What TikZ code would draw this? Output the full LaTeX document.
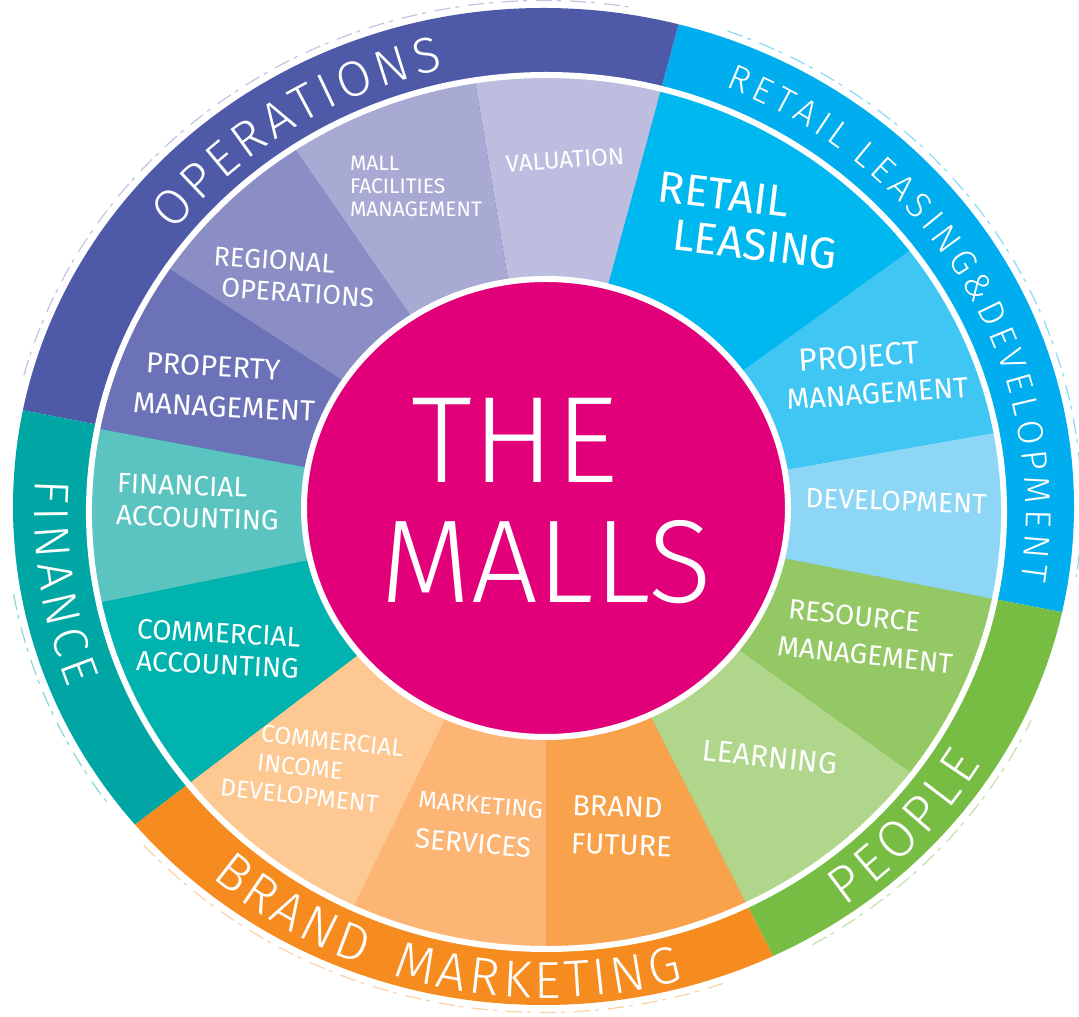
\documentclass[tikz,border=0pt]{standalone}
\usepackage{fontspec}
\setmainfont{Fira Sans}
\newfontfamily\handlight{Fira Sans Light}
\usetikzlibrary{decorations.text}

% palette
\definecolor{malls}{HTML}{E2007A}
\definecolor{opsdark}{HTML}{4E5AA8}
\definecolor{valuation}{HTML}{BDBEDF}
\definecolor{mallfac}{HTML}{A9AAD4}
\definecolor{regional}{HTML}{8B8EC5}
\definecolor{property}{HTML}{6C72B7}
\definecolor{finance}{HTML}{00A6A3}
\definecolor{finacc}{HTML}{5BC4C1}
\definecolor{comacc}{HTML}{00B3AF}
\definecolor{brand}{HTML}{F68B1F}
\definecolor{cid}{HTML}{FDC891}
\definecolor{mktsvc}{HTML}{FCB574}
\definecolor{brandfut}{HTML}{F9A24C}
\definecolor{people}{HTML}{78BD43}
\definecolor{learning}{HTML}{AFD68A}
\definecolor{resource}{HTML}{94C864}
\definecolor{rld}{HTML}{00ADEE}
\definecolor{develop}{HTML}{8ED6F6}
\definecolor{project}{HTML}{40C6F2}
\definecolor{retail}{HTML}{00B8F0}

\newcommand\lab[2]{\fontsize{#1pt}{#2pt}\selectfont}
\newcommand\ringsize[1]{\handlight\fontsize{#1pt}{#1pt}\selectfont}

\tikzset{
  seglabel/.style={text=white, align=left, inner sep=0pt},
  ringtext/.style={decorate, decoration={text along path, text align=center,
      text color=white, text={#1}}},
  sketch/.style={line width=1.2pt, dash pattern=on 16pt off 5pt on 4pt off 9pt}
}

\begin{document}
\begin{tikzpicture}[x=1pt,y=1pt]
\useasboundingbox (0,0) rectangle (1079,1017);

% outer ring of departments
\begin{scope}
  \clip (543.5,510.5) ellipse [x radius=530.5, y radius=498.5];
  \begin{scope}[shift={(546.5,505)}, xscale=1.047]
    \foreach \a/\b/\c in {-11.5/75.5/rld, 75.5/168.5/opsdark, 168.5/218.5/finance,
                          218.5/296/brand, 296/348.5/people}
      \fill[\c] (0,0) -- (\a:800) arc[start angle=\a, end angle=\b, radius=800] -- cycle;
  \end{scope}
\end{scope}

% sketchy strokes just outside the rim
\begin{scope}[shift={(543.5,510.5)}]
  \draw[sketch, opsdark!35] (165:538 and 506) arc[start angle=165, end angle=80, x radius=538, y radius=506];
  \draw[sketch, rld!45] (70:538 and 506) arc[start angle=70, end angle=-8, x radius=538, y radius=506];
  \draw[sketch, finance!45] (190:538 and 506) arc[start angle=190, end angle=216, x radius=538, y radius=506];
  \draw[sketch, brand!40] (222:538 and 506) arc[start angle=222, end angle=290, x radius=538, y radius=506];
  \draw[sketch, people!45] (300:538 and 506) arc[start angle=300, end angle=335, x radius=538, y radius=506];
\end{scope}

% inner ring of teams
\begin{scope}[shift={(546.5,505)}, xscale=1.047]
  \foreach \a/\b/\c in {37/75.5/retail, 75.5/99/valuation, 99/123.5/mallfac,
                        123.5/146/regional, 146/169/property, 169/192/finacc,
                        192/218.5/comacc, 218.5/245/cid, 245/270/mktsvc,
                        270/296/brandfut, 296/323.2/learning, 323.2/348.5/resource,
                        348.5/370.5/develop, 10.5/37/project}
    \fill[\c] (0,0) -- (\a:437) arc[start angle=\a, end angle=\b, radius=437] -- cycle;
  \draw[white, line width=6pt] (0,0) circle[radius=437];
\end{scope}

% hub
\filldraw[fill=malls, draw=white, line width=6pt] (546,509) ellipse [x radius=242, y radius=229];
\node[text=white, font={\handlight\lab{123}{123}}, inner sep=0pt] (the) at (515,577) {THE};
\node[text=white, font={\handlight\lab{118}{118}}, inner sep=0pt] (malls) at (546,455) {MALLS};

% team labels
\node[seglabel, font=\lab{24}{24}, rotate=4] (valuationlbl) at (565,857) {VALUATION};
\node[seglabel, font=\lab{21}{23}] (malllbl) at (416,831) {MALL\\FACILITIES\\MANAGEMENT};
\node[seglabel, font=\lab{27}{31}, rotate=-4] (regionallbl) at (294,740) {REGIONAL\\\hspace*{10pt}OPERATIONS};
\node[seglabel, font=\lab{29}{40}, rotate=-3] (propertylbl) at (225,630) {\hspace*{11pt}PROPERTY\\MANAGEMENT};
\node[seglabel, font=\lab{28}{32}, rotate=-2] (finacclbl) at (198,515) {FINANCIAL\\ACCOUNTING};
\node[seglabel, font=\lab{28}{32}, rotate=-3, align=right] (comacclbl) at (218,368) {COMMERCIAL\\ACCOUNTING};
\node[seglabel, font=\lab{24.5}{29}, rotate=-6] (cidlbl) at (312,249) {\hspace*{35pt}COMMERCIAL\\\hspace*{34pt}INCOME\\DEVELOPMENT};
\node[seglabel, font=\lab{24}{40}, rotate=-5] (mktsvclbl) at (479,192) {MARKETING\\{\lab{28}{40}SERVICES}};
\node[seglabel, font=\lab{29}{38}, rotate=-2] (brandfutlbl) at (622,191) {BRAND\\FUTURE};
\node[seglabel, font=\lab{30}{30}, rotate=-6] (learninglbl) at (770,260) {LEARNING};
\node[seglabel, font=\lab{28}{38}, rotate=-6] (resourcelbl) at (867,381) {\hspace*{7pt}RESOURCE\\MANAGEMENT};
\node[seglabel, font=\lab{28}{28}, rotate=-2] (developlbl) at (896,516) {DEVELOPMENT};
\node[seglabel, font=\lab{29}{37}, rotate=4] (projectlbl) at (876,643) {\hspace*{15pt}{\lab{32}{37}PROJECT}\\MANAGEMENT};
\node[seglabel, font=\lab{44}{46}, rotate=-7] (retaillbl) at (748,796) {RETAIL\\\hspace*{20pt}LEASING};

% department names along the rim (each letter boxed with a little extra room)
\begin{scope}[shift={(546.5,505)}]
  \path[ringtext={|\ringsize{50}|{O\kern4.5pt}{P\kern4.5pt}{E\kern4.5pt}{R\kern4.5pt}{A\kern4.5pt}{T\kern4.5pt}{I\kern4.5pt}{O\kern4.5pt}{N\kern4.5pt}{S}}]
    (160:474.3 and 453) arc[start angle=160, end angle=85, x radius=474.3, y radius=453];
  \path[ringtext={|\ringsize{36}|{R\kern5pt}{E\kern5pt}{T\kern5pt}{A\kern5pt}{I\kern5pt}{L\kern5pt} {L\kern5pt}{E\kern5pt}{A\kern5pt}{S\kern5pt}{I\kern5pt}{N\kern5pt}{G\kern4pt}{\&\kern4pt}{D\kern5pt}{E\kern5pt}{V\kern5pt}{E\kern5pt}{L\kern5pt}{O\kern5pt}{P\kern5pt}{M\kern5pt}{E\kern5pt}{N\kern5pt}{T}}]
    (82:479.5 and 458) arc[start angle=82, end angle=-23, x radius=479.5, y radius=458];
  \path[ringtext={|\ringsize{49}|{F\kern5pt}{I\kern5pt}{N\kern5pt}{A\kern5pt}{N\kern5pt}{C\kern5pt}{E}}]
    (155:512 and 489) arc[start angle=155, end angle=222, x radius=512, y radius=489];
  \path[ringtext={|\ringsize{52}|{B\kern4pt}{R\kern4pt}{A\kern4pt}{N\kern4pt}{D\kern32pt}{M\kern4pt}{A\kern4pt}{R\kern4pt}{K\kern4pt}{E\kern4pt}{T\kern4pt}{I\kern4pt}{N\kern4pt}{G}}]
    (208:508.8 and 486) arc[start angle=208, end angle=306, x radius=508.8, y radius=486];
  \path[ringtext={|\ringsize{52}|{P\kern5pt}{E\kern5pt}{O\kern5pt}{P\kern5pt}{L\kern5pt}{E}}]
    (292:508.8 and 486) arc[start angle=292, end angle=343, x radius=508.8, y radius=486];
\end{scope}
\end{tikzpicture}
\end{document}
